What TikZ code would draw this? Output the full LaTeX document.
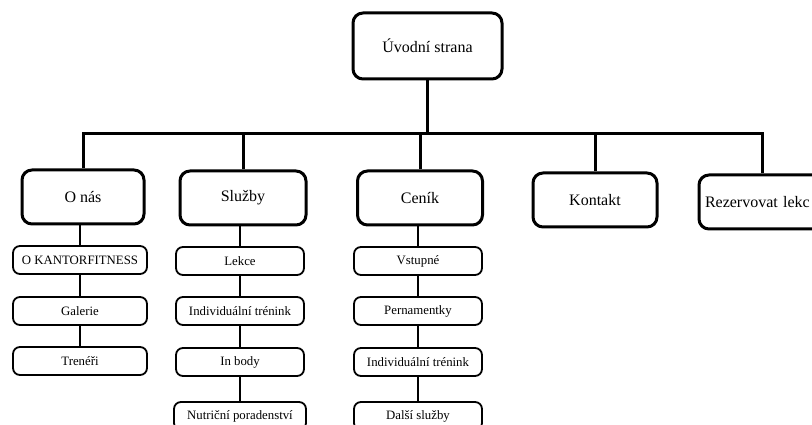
\documentclass[tikz,border=0pt]{standalone}
\usepackage{fontspec}
\setmainfont{Liberation Serif}
\begin{document}
\begin{tikzpicture}[x=1pt,y=-1pt,
  big/.style={draw, line width=3pt, rounded corners=10pt, minimum width=122pt,
    minimum height=54pt, inner sep=0pt, font=\fontsize{16}{19}\selectfont},
  small/.style={draw, line width=1.8pt, rounded corners=7pt, minimum width=128pt,
    minimum height=28pt, inner sep=0pt, font=\fontsize{12.8}{15}\selectfont},
  mainlink/.style={line width=3pt},
  sublink/.style={line width=1.6pt}]
\useasboundingbox (0,0) rectangle (812,425);
\clip (0,0) rectangle (812,425);

% top
\node[big, minimum width=149pt, minimum height=66pt] (root) at (427.5,46) {Úvodní strana};

% level 2
\node[big] (onas) at (83,197) {O nás};
\node[big, minimum width=126pt] (sluzby) at (243,198) {Služby};
\node[big, minimum width=125pt] (cenik) at (420,198) {Ceník};
\node[big, minimum width=124pt] (kontakt) at (595,200) {Kontakt};
\node[big, minimum width=126pt, text width=120pt, align=left] (rez) at (762,202) {\hspace*{3pt}Rezervovat lekc};

% bus
\coordinate (bus) at (0,134);
\draw[mainlink] (root.south) -- (root.south |- bus);
\draw[mainlink] (onas.north) |- (rez.north |- bus) -- (rez.north);
\foreach \n in {sluzby,cenik,kontakt}
  \draw[mainlink] (\n.north) -- (\n.north |- bus);

% O nás column
\node[small, minimum width=134pt] (a1) at (80,260) {O KANTORFITNESS};
\node[small, minimum width=134pt] (a2) at (80,311) {Galerie};
\node[small, minimum width=134pt] (a3) at (80,361) {Trenéři};

% Služby column
\node[small] (b1) at (240,261) {Lekce};
\node[small] (b2) at (240,311) {Individuální trénink};
\node[small] (b3) at (240,362) {In body};
\node[small, minimum width=132pt] (b4) at (240,416) {Nutriční poradenství};

% Ceník column
\node[small] (c1) at (418,261) {Vstupné};
\node[small] (c2) at (418,311) {Pernamentky};
\node[small] (c3) at (418,362) {Individuální trénink};
\node[small] (c4) at (418,416) {Další služby};

\draw[sublink] (a1.north) -- (a1.north |- onas.south) (a1.south) -- (a2.north) (a2.south) -- (a3.north);
\draw[sublink] (b1.north) -- (b1.north |- sluzby.south) (b1.south) -- (b2.north) (b2.south) -- (b3.north) (b3.south) -- (b4.north);
\draw[sublink] (c1.north) -- (c1.north |- cenik.south) (c1.south) -- (c2.north) (c2.south) -- (c3.north) (c3.south) -- (c4.north);
\end{tikzpicture}
\end{document}
